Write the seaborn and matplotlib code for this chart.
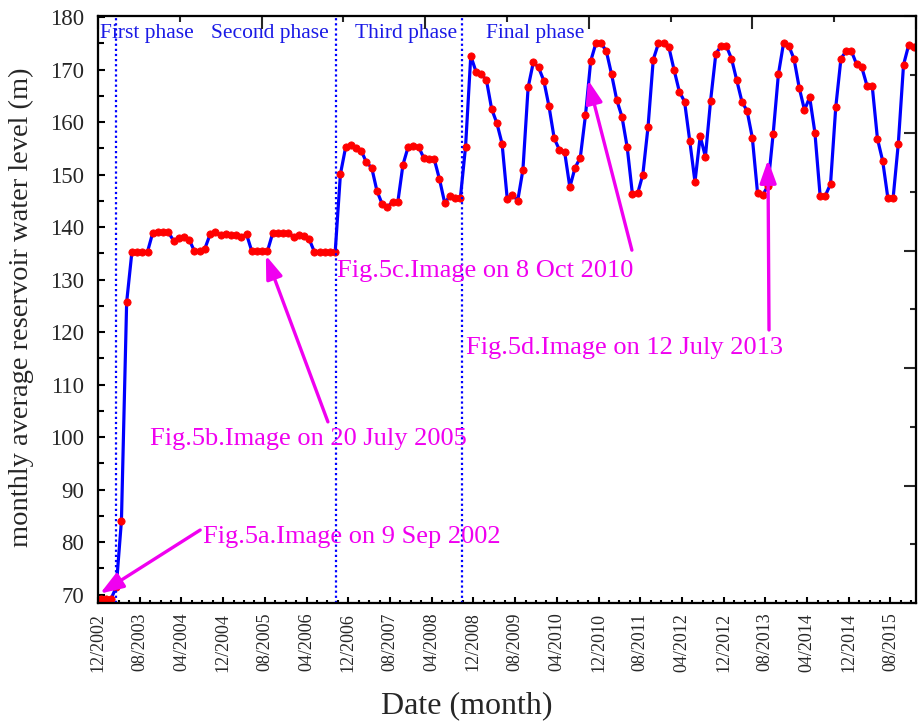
#!/usr/bin/env python3

from matplotlib import pyplot as plt
import numpy as np
import seaborn as sns

# monthly average reservoir water level (m), one value per month starting 12/2002
first_phase = [69.2, 69.2, 69.2, 71.4, 84.1, 125.7]
second_phase = [
    135.2, 135.3, 135.3, 135.3, 138.9, 139.1, 139.1, 139.0, 137.4, 137.9,
    138.1, 137.6, 135.4, 135.4, 135.9, 138.6, 139.0, 138.5, 138.7, 138.4,
    138.4, 138.2, 138.6, 135.4, 135.4, 135.4, 135.4, 138.8, 138.8, 138.8,
    138.8, 138.2, 138.4, 138.3, 137.7, 135.3, 135.3, 135.3, 135.3, 135.3,
]
third_phase = [
    150.1, 155.2, 155.6, 155.0, 154.5, 152.3, 151.3, 146.9, 144.4, 143.8,
    144.8, 144.7, 151.9, 155.3, 155.5, 155.3, 153.1, 152.9, 152.9, 149.1,
    144.6, 145.9, 145.6, 145.5, 155.3,
]
final_phase = [
    172.6, 169.6, 169.1, 168.0, 162.5, 159.8, 155.9, 145.3, 146.2, 145.0,
    150.9, 166.6, 171.4, 170.4, 167.9, 163.0, 156.9, 154.7, 154.3, 147.6,
    151.3, 153.2, 161.3, 171.6, 175.0, 175.0, 173.5, 169.1, 164.2, 161.0,
    155.2, 146.3, 146.4, 150.0, 159.1, 171.9, 175.0, 175.0, 174.2, 169.9,
    165.8, 163.9, 156.4, 148.6, 157.3, 153.4, 164.1, 173.0, 174.5, 174.5,
    172.1, 168.0, 163.9, 162.1, 157.0, 146.5, 146.1, 147.9, 157.8, 169.1,
    175.1, 174.5, 172.0, 166.5, 162.3, 164.7, 158.0, 146.0, 146.0, 148.2,
    162.8, 172.1, 173.5, 173.5, 171.0, 170.4, 166.9, 166.8, 156.8, 152.6,
    145.5, 145.5, 155.9, 170.9, 174.7, 174.2,
]

tick_labels = [
    "12/2002", "08/2003", "04/2004", "12/2004", "08/2005", "04/2006",
    "12/2006", "08/2007", "04/2008", "12/2008", "08/2009", "04/2010",
    "12/2010", "08/2011", "04/2012", "12/2012", "08/2013", "04/2014",
    "12/2014", "08/2015",
]

phase_names = ["First phase", "Second phase", "Third phase", "Final phase"]
phase_starts = [3.4, 45.7, 69.8]   # months after 12/2002

image_notes = [
    "Fig.5a.Image on 9 Sep 2002",
    "Fig.5b.Image on 20 July 2005",
    "Fig.5c.Image on 8 Oct 2010",
    "Fig.5d.Image on 12 July 2013",
]


def main():
    levels = first_phase + second_phase + third_phase + final_phase
    months = np.arange(len(levels)) + 0.5

    sns.set_theme(style="ticks")
    plt.rcParams["font.family"] = ["Liberation Serif", "DejaVu Serif"]

    fig = plt.figure(figsize=(9.2, 7.26), dpi=100)
    ax = fig.add_axes([0.1065, 0.1694, 0.8892, 0.8086])

    sns.lineplot(
            x=months, y=levels, ax=ax, color="#0000FF", linewidth=2.3,
            marker="o", markersize=5.2, markerfacecolor="#FF0000",
            markeredgecolor="#FF0000", markeredgewidth=0.6,
            )

    for m in phase_starts:
        ax.axvline(m, color="#0000FF", linestyle=(0, (1, 1.3)), linewidth=1.6)

    blue = "#1a1ae6"
    for name, xpos in zip(phase_names, [0.3, 21.6, 49.3, 74.5]):
        ax.text(xpos, 176.0, name, color=blue, fontsize=15.5, va="baseline")

    magenta = "#F000F0"
    text_pos = [(20.15, 80.9), (10.0, 99.6), (45.8, 131.6), (70.6, 116.9)]
    arrow_tails = [(19.6, 82.3), (44.1, 102.9), (102.4, 135.6), (128.7, 120.4)]
    arrow_tips = [(0.4, 70.2), (32.2, 134.6), (94.0, 168.0), (128.5, 152.8)]
    for note, pos, tail, tip in zip(image_notes, text_pos, arrow_tails, arrow_tips):
        ax.text(pos[0], pos[1], note, color=magenta, fontsize=19, va="center")
        ax.annotate(
                "", xy=tip, xytext=tail,
                arrowprops=dict(
                    arrowstyle="-|>,head_length=1.4,head_width=0.5",
                    mutation_scale=10, color=magenta, lw=2.4,
                    shrinkA=0, shrinkB=0,
                    ),
                )

    ax.set_xlim(0, 156.9)
    ax.set_ylim(68.4, 180.2)
    ax.set_xticks(range(0, 8 * len(tick_labels), 8))
    ax.set_xticklabels(tick_labels, rotation=90, fontsize=13)
    ax.set_xticks(range(0, 157, 2), minor=True)
    ax.set_yticks(range(70, 181, 10))
    ax.set_yticks(range(70, 181, 5), minor=True)
    ax.tick_params(axis="y", labelsize=16.5)

    ax.tick_params(which="both", direction="in", width=1.5, color="black",
                   top=False, right=False)
    ax.tick_params(axis="x", which="major", length=4.2, pad=7)
    ax.tick_params(axis="x", which="minor", length=2.4)
    ax.tick_params(axis="y", which="major", length=4.8, pad=10)
    ax.tick_params(axis="y", which="minor", length=4.5)

    for spine in ax.spines.values():
        spine.set_visible(True)
        spine.set_linewidth(1.5)
        spine.set_color("black")

    # opposite axes carry their own even divisions, no labels
    ax_top = ax.twiny()
    ax_top.set_xlim(0, 10)
    ax_top.set_xticks(range(0, 11, 2))
    ax_top.set_xticks(range(1, 10, 2), minor=True)
    ax_top.tick_params(axis="x", which="both", direction="in", width=1.5,
                       labeltop=False, top=True, bottom=False)
    ax_top.tick_params(axis="x", which="major", length=9)
    ax_top.tick_params(axis="x", which="minor", length=4.5)
    ax_top.grid(False)

    ax_right = ax.twinx()
    ax_right.set_ylim(0, 10)
    ax_right.set_yticks(range(0, 11, 2))
    ax_right.set_yticks(range(1, 10, 2), minor=True)
    ax_right.tick_params(axis="y", which="both", direction="in", width=1.5,
                         labelright=False, right=True, left=False)
    ax_right.tick_params(axis="y", which="major", length=9)
    ax_right.tick_params(axis="y", which="minor", length=4.5)
    ax_right.grid(False)

    for a in (ax_top, ax_right):
        for spine in a.spines.values():
            spine.set_linewidth(1.5)
            spine.set_color("black")

    ax.set_xlabel("Date (month)", fontsize=23)
    ax.set_ylabel("monthly average reservoir water level (m)", fontsize=20.5)
    ax.xaxis.set_label_coords(0.451, -0.150)
    ax.yaxis.set_label_coords(-0.078, 0.504)

    fig.savefig("out.png", dpi=100, facecolor="white")


if __name__ == "__main__":
    main()
